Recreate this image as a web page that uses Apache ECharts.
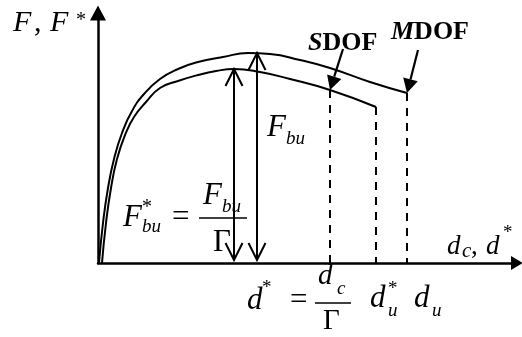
<!DOCTYPE html>
<html>
<head>
<meta charset="utf-8">
<script src="https://cdn.jsdelivr.net/npm/echarts@6/dist/echarts.min.js"></script>
<style>
  html, body { margin: 0; padding: 0; background: #fff; }
  #chart { width: 522px; height: 337px; }
</style>
</head>
<body>
<div id="chart"></div>
<script>
// Capacity curves, [displacement, base force] in drawing units
const mdofCurve = [
  [1, 0], [5, 40], [10, 75], [16, 104], [24, 130], [34, 152], [46, 169], [62, 184],
  [80, 194], [100, 201], [125, 206], [150, 210], [172, 209], [202, 203], [232, 195], [272, 181], [309, 170]
];
const sdofCurve = [
  [4, 0], [8, 40], [13, 75], [19, 104], [27, 128], [36, 146], [48, 161], [62, 175],
  [80, 182], [100, 188], [118, 192], [136, 194], [162, 191], [192, 184], [232, 173], [278, 156]
];

// Characteristic displacements, [displacement, force on its curve]
const dStar = [232, 173];   // d* = dc / Γ on the SDOF curve
const dStarU = [278, 156];  // ultimate SDOF displacement d*u
const dU = [309, 170];      // ultimate MDOF displacement du
const guideLines = [dStar, dStarU, dU];

// Peak strengths, [displacement at peak, force]
const peakSdof = [136, 194]; // F*bu
const peakMdof = [159, 210]; // Fbu

// Curve names and the points their pointers aim at
const curveNames = ['SDOF', 'MDOF'];
const curveMarks = [dStar, dU];

const SERIF = '"Liberation Serif", "Times New Roman", serif';
const INK = '#000';

function fontOf(fs, italic, bold) {
  return (italic ? 'italic ' : '') + (bold ? 'bold ' : '') + fs + 'px ' + SERIF;
}
// One piece of text placed by its left edge and alphabetic baseline
function glyph(origin, dx, base, str, fs, italic) {
  return {
    type: 'text',
    style: {
      text: str, x: origin[0] + dx, y: origin[1] + base - 0.3 * fs,
      font: fontOf(fs, italic, false), fill: INK,
      align: 'left', verticalAlign: 'middle'
    }
  };
}
function bar(origin, x1, x2, y) {
  return {
    type: 'line',
    shape: { x1: origin[0] + x1, y1: origin[1] + y, x2: origin[0] + x2, y2: origin[1] + y },
    style: { stroke: INK, lineWidth: 1.6 }
  };
}

const chart = echarts.init(document.getElementById('chart'), null, { renderer: 'canvas' });

function axisStyle(size) {
  return {
    show: true,
    onZero: true,
    symbol: ['none', 'triangle'],
    symbolSize: size,
    lineStyle: { color: INK, width: 2.5 }
  };
}

const option = {
  backgroundColor: '#fff',
  animation: false,
  grid: { left: 98, right: 5, top: 13, bottom: 74 },
  xAxis: {
    type: 'value', min: 0, max: 419,
    axisLine: axisStyle([14, 12]),
    axisTick: { show: false }, axisLabel: { show: false }, splitLine: { show: false }
  },
  yAxis: {
    type: 'value', min: 0, max: 250,
    axisLine: axisStyle([16, 15]),
    axisTick: { show: false }, axisLabel: { show: false }, splitLine: { show: false }
  },
  series: [
    {
      name: 'MDOF', type: 'line', data: mdofCurve, smooth: 0.5,
      showSymbol: false, lineStyle: { color: INK, width: 2 }, z: 3
    },
    {
      name: 'SDOF', type: 'line', data: sdofCurve, smooth: 0.5,
      showSymbol: false, lineStyle: { color: INK, width: 2 }, z: 3
    },
    {
      // dashed verticals from each characteristic point down to the axis
      type: 'custom', data: guideLines, clip: false, z: 2,
      renderItem: function (params, api) {
        const top = api.coord([api.value(0), api.value(1)]);
        const bot = api.coord([api.value(0), 0]);
        return {
          type: 'line',
          shape: { x1: top[0], y1: top[1], x2: bot[0], y2: bot[1] },
          style: { stroke: INK, lineWidth: 2, lineDash: [8, 7] }
        };
      }
    },
    {
      // double-headed strength arrows
      type: 'custom', data: [peakSdof, peakMdof], clip: false, z: 4,
      renderItem: function (params, api) {
        const top = api.coord([api.value(0), api.value(1)]);
        const bot = api.coord([api.value(0), 3]);
        const hl = 17, hw = 8.5;
        const st = { stroke: INK, lineWidth: 2, fill: null };
        return {
          type: 'group',
          children: [
            { type: 'line', shape: { x1: top[0], y1: top[1], x2: bot[0], y2: bot[1] }, style: st },
            { type: 'polyline', shape: { points: [[top[0] - hw, top[1] + hl], top, [top[0] + hw, top[1] + hl]] }, style: st },
            { type: 'polyline', shape: { points: [[bot[0] - hw, bot[1] - hl], bot, [bot[0] + hw, bot[1] - hl]] }, style: st }
          ]
        };
      }
    },
    {
      // curve name pointers with their labels
      type: 'custom', data: curveMarks, clip: false, z: 5,
      renderItem: function (params, api) {
        const i = params.dataIndex;
        const t = api.coord([api.value(0), api.value(1)]);
        const off = i === 0 ? [13, -41] : [11, -43];
        const s = [t[0] + off[0], t[1] + off[1]];
        const len = Math.hypot(off[0], off[1]);
        const ux = off[0] / len, uy = off[1] / len;
        const hl = 14, hw = 7.5;
        const b = [t[0] + ux * hl, t[1] + uy * hl];
        const px = -uy, py = ux;
        const name = curveNames[i];
        const labelPos = i === 0 ? [s[0] - 35, s[1] + 2] : [s[0] - 27, s[1] - 10];
        return {
          type: 'group',
          children: [
            { type: 'line', shape: { x1: s[0], y1: s[1], x2: b[0], y2: b[1] }, style: { stroke: INK, lineWidth: 2.2 } },
            { type: 'polygon', shape: { points: [t, [b[0] + px * hw, b[1] + py * hw], [b[0] - px * hw, b[1] - py * hw]] }, style: { fill: INK } },
            {
              type: 'text',
              style: {
                text: '{i|' + name.charAt(0) + '}{b|' + name.slice(1) + '}',
                x: labelPos[0], y: labelPos[1] - 0.3 * 26,
                align: 'left', verticalAlign: 'middle',
                rich: {
                  i: { font: fontOf(26, true, true), fill: INK },
                  b: { font: fontOf(26, false, true), fill: INK }
                }
              }
            }
          ]
        };
      }
    },
    {
      // symbolic labels: axis names, strengths and displacements
      type: 'custom', data: [0], clip: false, z: 6,
      renderItem: function (params, api) {
        const kids = [];
        const M = 31, S = 19, ST = 20;
        // vertical axis name  F, F*
        const yEnd = api.coord([0, 250]);
        kids.push(glyph(yEnd, -85, 19, 'F', 30, true));
        kids.push(glyph(yEnd, -64, 19, ',', 30, false));
        kids.push(glyph(yEnd, -48, 19, 'F', 30, true));
        kids.push(glyph(yEnd, -22, 13.5, '*', ST, false));
        // horizontal axis name  dc, d*
        const xEnd = api.coord([419, 0]);
        kids.push(glyph(xEnd, -70, -8, 'd', 27, true));
        kids.push(glyph(xEnd, -55, -5, 'c', 21, true));
        kids.push(glyph(xEnd, -46, -8, ',', 27, false));
        kids.push(glyph(xEnd, -31, -8, 'd', 27, true));
        kids.push(glyph(xEnd, -14, -24, '*', S, false));
        // Fbu beside the MDOF strength arrow
        const pm = api.coord(peakMdof);
        kids.push(glyph(pm, 10, 84, 'F', M, true));
        kids.push(glyph(pm, 29, 92, 'bu', S, true));
        // F*bu = Fbu / Γ
        const ps = api.coord([peakSdof[0], 0]);
        kids.push(glyph(ps, -111, -36, 'F', M, true));
        kids.push(glyph(ps, -92, -49.5, '*', ST, false));
        kids.push(glyph(ps, -92, -30, 'bu', S, true));
        kids.push(glyph(ps, -62, -36, '=', M, false));
        kids.push(glyph(ps, -31, -58, 'F', M, true));
        kids.push(glyph(ps, -12, -50, 'bu', S, true));
        kids.push(bar(ps, -35, 13, -45));
        kids.push(glyph(ps, -21, -11, 'Γ', M, false));
        // d* = dc / Γ
        const ds = api.coord([dStar[0], 0]);
        kids.push(glyph(ds, -83, 47, 'd', M, true));
        kids.push(glyph(ds, -68, 31, '*', S, false));
        kids.push(glyph(ds, -40, 47, '=', M, false));
        kids.push(glyph(ds, -12, 22, 'd', 29, true));
        kids.push(glyph(ds, 7, 32, 'c', S, true));
        kids.push(bar(ds, -15, 21, 40));
        kids.push(glyph(ds, -7, 67, 'Γ', 29, false));
        // d*u
        const dsu = api.coord([dStarU[0], 0]);
        kids.push(glyph(dsu, -6, 45, 'd', M, true));
        kids.push(glyph(dsu, 12, 32, '*', S, false));
        kids.push(glyph(dsu, 12, 54, 'u', S, true));
        // du
        const du = api.coord([dU[0], 0]);
        kids.push(glyph(du, 7, 45, 'd', M, true));
        kids.push(glyph(du, 25, 54, 'u', S, true));
        return { type: 'group', children: kids };
      }
    }
  ]
};

chart.setOption(option);
</script>
</body>
</html>
